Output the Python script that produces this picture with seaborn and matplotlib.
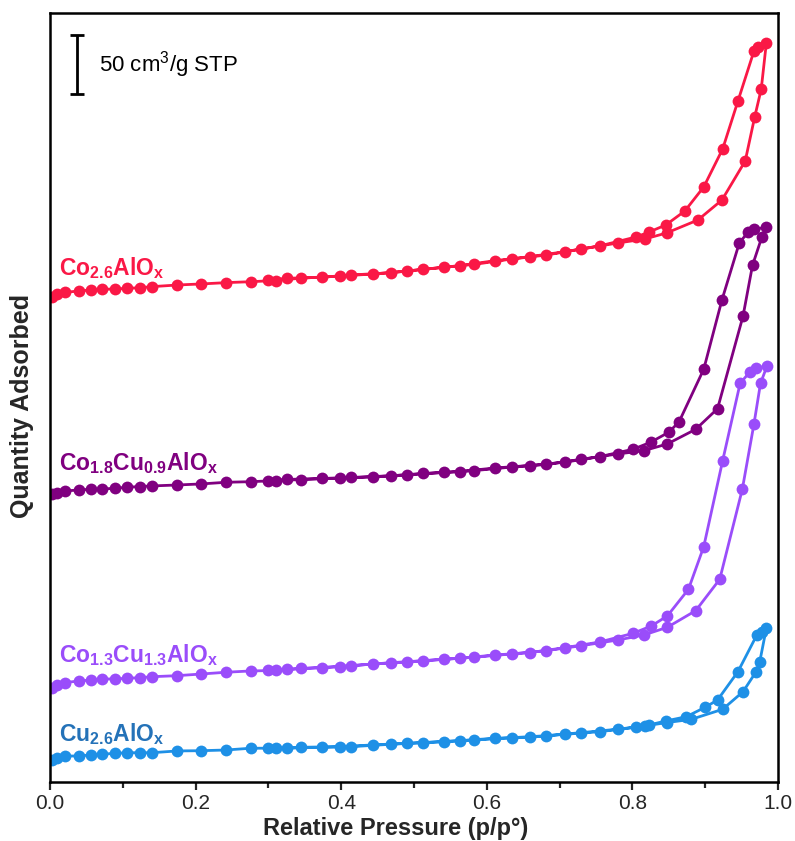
import numpy as np
import pandas as pd
import matplotlib
matplotlib.use("Agg")
import matplotlib.pyplot as plt
import seaborn as sns

# ---------------- data (offset-stacked quantity adsorbed, cm3/g STP) ----------------
P_ADS_LOW = [0.003, 0.01, 0.02, 0.04, 0.056, 0.072, 0.089, 0.106, 0.124, 0.14, 0.175,
             0.208, 0.242, 0.276, 0.31, 0.345, 0.398, 0.444, 0.491, 0.541, 0.583,
             0.634, 0.682, 0.730, 0.780]
P_DES_LOW = [0.755, 0.707, 0.659, 0.611, 0.563, 0.513, 0.469, 0.414, 0.373, 0.325, 0.30]

# Co2.6AlOx
CO26_ADS_LOW = [411.3, 413.6, 415.0, 416.1, 417.0, 417.6, 417.8, 418.4, 418.9, 419.8, 421.2,
                422.1, 423.2, 424.0, 425.0, 427.0, 428.8, 430.5, 433.1, 436.2, 438.7,
                443.2, 446.6, 451.7, 456.8]
CO26_ADS_HIGH_P = [0.817, 0.847, 0.89, 0.923, 0.955, 0.968, 0.977, 0.984]
CO26_ADS_HIGH = [460.2, 465.3, 476.3, 493.2, 526.3, 563.6, 587.3, 626.3]
CO26_DES_HIGH_P = [0.973, 0.967, 0.945, 0.924, 0.898, 0.872, 0.846, 0.823, 0.805]
CO26_DES_HIGH = [622.9, 619.5, 577.1, 536.5, 504.3, 483.9, 472.1, 466.1, 461.9]
CO26_DES_LOW = [454.3, 449.4, 445.2, 441.8, 437.6, 434.5, 431.6, 429.7, 427.7, 426.9, 425.2]

# Co1.8Cu0.9AlOx
CO18_ADS_LOW = [243.8, 245.2, 246.6, 247.5, 248.1, 248.3, 248.9, 249.8, 250.4, 250.9, 251.7,
                252.6, 254.0, 254.5, 255.4, 256.3, 257.5, 258.6, 260.3, 262.3, 263.9,
                266.9, 269.1, 273.5, 278.0]
CO18_ADS_HIGH_P = [0.816, 0.848, 0.887, 0.917, 0.952, 0.965, 0.978, 0.984]
CO18_ADS_HIGH = [280.8, 286.5, 298.9, 316.4, 394.9, 437.9, 462.1, 470.1]
CO18_DES_HIGH_P = [0.967, 0.959, 0.947, 0.923, 0.898, 0.864, 0.850, 0.825, 0.801]
CO18_DES_HIGH = [468.4, 465.9, 457.1, 408.5, 349.8, 305.1, 296.4, 287.9, 282.0]
CO18_DES_LOW = [275.7, 271.0, 268.2, 266.1, 263.1, 261.5, 259.5, 258.1, 257.2, 256.4, 255.5]

# Co1.3Cu1.3AlOx
CO13_ADS_LOW = [79.9, 82.2, 84.2, 85.6, 86.4, 87.3, 87.3, 87.9, 88.4, 89.2, 90.1,
                91.5, 93.0, 94.1, 94.5, 96.2, 97.7, 100.0, 101.7, 104.0, 105.7,
                108.5, 111.3, 115.5, 120.3]
CO13_ADS_HIGH_P = [0.816, 0.848, 0.887, 0.920, 0.951, 0.967, 0.976, 0.985]
CO13_ADS_HIGH = [124.6, 131.1, 145.2, 171.8, 248.1, 303.4, 337.9, 352.6]
CO13_DES_HIGH_P = [0.970, 0.961, 0.948, 0.924, 0.898, 0.877, 0.848, 0.826, 0.801]
CO13_DES_HIGH = [350.6, 347.2, 337.9, 272.3, 199.4, 163.3, 140.7, 132.2, 126.0]
CO13_DES_LOW = [118.6, 113.8, 109.6, 107.6, 104.8, 102.8, 101.1, 98.6, 96.9, 95.5, 94.9]

# Cu2.6AlOx
CU26_ADS_LOW = [18.6, 20.6, 22.0, 22.0, 22.9, 23.5, 24.3, 24.8, 24.8, 24.8, 26.3,
                26.5, 27.1, 28.6, 28.6, 29.4, 29.9, 31.4, 32.8, 34.2, 35.6,
                37.5, 39.2, 41.8, 44.7]
CU26_ADS_HIGH_P = [0.817, 0.847, 0.881, 0.924, 0.952, 0.970, 0.975, 0.984]
CU26_ADS_HIGH = [47.5, 50.3, 53.1, 61.6, 76.5, 93.5, 102.0, 130.3]
CU26_DES_HIGH_P = [0.978, 0.971, 0.945, 0.917, 0.900, 0.874, 0.846, 0.823, 0.805]
CU26_DES_HIGH = [127.4, 124.6, 93.5, 69.5, 63.3, 55.3, 51.7, 48.3, 46.4]
CU26_DES_LOW = [42.6, 40.4, 37.9, 37.0, 35.0, 33.3, 32.0, 29.9, 29.4, 28.6, 28.4]

SAMPLES = ["Co2.6AlOx", "Co1.8Cu0.9AlOx", "Co1.3Cu1.3AlOx", "Cu2.6AlOx"]
LABELS = [r"$\mathbf{Co_{2.6}AlO_x}$", r"$\mathbf{Co_{1.8}Cu_{0.9}AlO_x}$",
          r"$\mathbf{Co_{1.3}Cu_{1.3}AlO_x}$", r"$\mathbf{Cu_{2.6}AlO_x}$"]
LABEL_Y = [435.6, 270.4, 107.6, 40.7]
COLORS = ["#FA1846", "#800080", "#9A4DFA", "#1E90E6"]
LABEL_COLORS = ["#FA1846", "#800080", "#9A4DFA", "#2472B8"]
SCALE_BAR = 50.0

SERIES = {
    "Co2.6AlOx": (CO26_ADS_LOW, CO26_ADS_HIGH_P, CO26_ADS_HIGH, CO26_DES_HIGH_P, CO26_DES_HIGH, CO26_DES_LOW),
    "Co1.8Cu0.9AlOx": (CO18_ADS_LOW, CO18_ADS_HIGH_P, CO18_ADS_HIGH, CO18_DES_HIGH_P, CO18_DES_HIGH, CO18_DES_LOW),
    "Co1.3Cu1.3AlOx": (CO13_ADS_LOW, CO13_ADS_HIGH_P, CO13_ADS_HIGH, CO13_DES_HIGH_P, CO13_DES_HIGH, CO13_DES_LOW),
    "Cu2.6AlOx": (CU26_ADS_LOW, CU26_ADS_HIGH_P, CU26_ADS_HIGH, CU26_DES_HIGH_P, CU26_DES_HIGH, CU26_DES_LOW),
}

rows = []
for name in SAMPLES:
    al, ahp, ah, dhp, dh, dl = SERIES[name]
    p = list(P_ADS_LOW) + list(ahp) + list(dhp) + list(P_DES_LOW)
    v = list(al) + list(ah) + list(dh) + list(dl)
    for i, (pp, vv) in enumerate(zip(p, v)):
        rows.append({"sample": name, "order": i, "p": pp, "v": vv})
df = pd.DataFrame(rows)

# ---------------- style ----------------
sns.set_style("white")
plt.rcParams["font.family"] = ["Liberation Sans", "DejaVu Sans"]
plt.rcParams["mathtext.fontset"] = "custom"
plt.rcParams["mathtext.rm"] = "Liberation Sans"
plt.rcParams["mathtext.bf"] = "Liberation Sans:bold"
plt.rcParams["mathtext.it"] = "Liberation Sans:italic"

fig = plt.figure(figsize=(7.95, 8.41), dpi=100)
ax = fig.add_axes([0.0629, 0.0702, 0.9157, 0.9143])

sns.lineplot(data=df, x="p", y="v", hue="sample", hue_order=SAMPLES,
             palette=COLORS, sort=False, estimator=None, units="sample",
             marker="o", markersize=8.5, markeredgewidth=0, linewidth=2.0,
             legend=False, ax=ax)

ax.set_xlim(0.0, 1.0)
ax.set_ylim(0.0, 651.7)
ax.set_xticks([0.0, 0.2, 0.4, 0.6, 0.8, 1.0])
ax.set_xticks([0.1, 0.3, 0.5, 0.7, 0.9], minor=True)
ax.set_xticklabels(["0.0", "0.2", "0.4", "0.6", "0.8", "1.0"])
ax.set_yticks([])
ax.tick_params(axis="x", which="major", direction="out", length=6, width=1.6,
               labelsize=15, pad=3, bottom=True)
ax.tick_params(axis="x", which="minor", direction="out", length=4, width=1.6, bottom=True)
for s in ax.spines.values():
    s.set_linewidth(1.8)
    s.set_color("black")

ax.set_xlabel("Relative Pressure (p/p°)", fontsize=17, fontweight="bold")
ax.set_ylabel("Quantity Adsorbed", fontsize=18, fontweight="bold")
ax.xaxis.set_label_coords(0.475, -0.046)
ax.yaxis.set_label_coords(-0.022, 0.489)

for lab, ly, lc in zip(LABELS, LABEL_Y, LABEL_COLORS):
    ax.text(0.012, ly, lab, color=lc, fontsize=16.5, ha="left", va="center")

# scale bar
bar_x = 0.037
bar_top = 633.1
ax.errorbar([bar_x], [bar_top - SCALE_BAR / 2], yerr=[SCALE_BAR / 2], fmt="none",
            ecolor="black", elinewidth=2, capsize=5, capthick=2)
ax.text(0.067, bar_top - SCALE_BAR / 2, r"50 cm$^3$/g STP", fontsize=16,
        ha="left", va="center", color="black")

fig.savefig("out.png", dpi=100, facecolor="white")
